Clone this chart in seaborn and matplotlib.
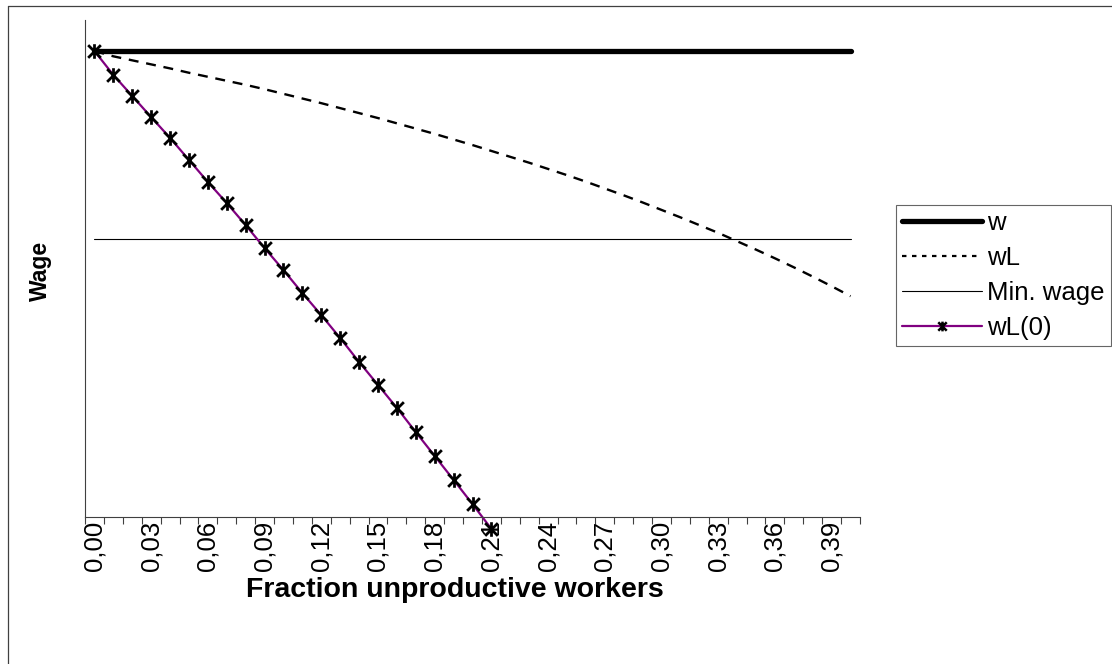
import numpy as np
import pandas as pd
import matplotlib
matplotlib.use("Agg")
import matplotlib.pyplot as plt
import matplotlib.lines as mlines
from matplotlib.path import Path
import seaborn as sns

# ==========================================
# data
# ==========================================
fraction = [0.00, 0.01, 0.02, 0.03, 0.04, 0.05, 0.06, 0.07, 0.08, 0.09,
            0.10, 0.11, 0.12, 0.13, 0.14, 0.15, 0.16, 0.17, 0.18, 0.19,
            0.20, 0.21, 0.22, 0.23, 0.24, 0.25, 0.26, 0.27, 0.28, 0.29,
            0.30, 0.31, 0.32, 0.33, 0.34, 0.35, 0.36, 0.37, 0.38, 0.39,
            0.40]

w = [15.0] * 41
min_wage = [8.94] * 41

wL = [15.00, 14.83, 14.70, 14.57, 14.44, 14.30, 14.17, 14.04, 13.91, 13.77,
      13.62, 13.47, 13.32, 13.16, 13.00, 12.84, 12.67, 12.50, 12.33, 12.15,
      11.97, 11.78, 11.59, 11.40, 11.20, 11.00, 10.79, 10.57, 10.35, 10.12,
      9.88, 9.64, 9.39, 9.14, 8.87, 8.60, 8.32, 8.03, 7.73, 7.42,
      7.10]

wL0 = [15.00, 14.23, 13.55, 12.87, 12.20, 11.49, 10.78, 10.10, 9.39, 8.65,
       7.94, 7.20, 6.49, 5.75, 4.98, 4.24, 3.50, 2.72, 1.95, 1.18,
       0.40, -0.40]

tick_labels = ["0,00", "0,03", "0,06", "0,09", "0,12", "0,15", "0,18",
               "0,21", "0,24", "0,27", "0,30", "0,33", "0,36", "0,39"]

# ==========================================
# plot
# ==========================================
sns.set_style("white")
plt.rcParams['font.family'] = ['Liberation Sans', 'DejaVu Sans']
plt.rcParams['text.color'] = 'black'
plt.rcParams['axes.labelcolor'] = 'black'
plt.rcParams['xtick.color'] = 'black'
plt.rcParams['ytick.color'] = 'black'

df = pd.DataFrame({'fraction': fraction, 'w': w, 'wL': wL, 'min_wage': min_wage})
df0 = pd.DataFrame({'fraction': fraction[:len(wL0)], 'wL0': wL0})

W, H = 1112, 664
fig = plt.figure(figsize=(W / 100, H / 100), dpi=100)
ax = fig.add_axes([85 / W, 1 - 516.5 / H, 775 / W, 496.5 / H])

# Excel style asterisk: an X with a vertical bar through it
star = Path([(-1, -1), (1, 1), (-1, 1), (1, -1), (0, -1.15), (0, 1.15)],
            [Path.MOVETO, Path.LINETO, Path.MOVETO, Path.LINETO,
             Path.MOVETO, Path.LINETO])

sns.lineplot(data=df, x='fraction', y='w', ax=ax, color='black', linewidth=3.8,
             clip_on=False)
sns.lineplot(data=df, x='fraction', y='wL', ax=ax, color='black', linewidth=1.7,
             dashes=(4.2, 3.3), clip_on=False)
sns.lineplot(data=df, x='fraction', y='min_wage', ax=ax, color='black',
             linewidth=0.8, clip_on=False)
sns.lineplot(data=df0, x='fraction', y='wL0', ax=ax, color='#800080', linewidth=1.6,
             marker=star, markersize=10.5, markeredgecolor='black',
             markeredgewidth=2.0, clip_on=False)

ax.set_xlim(-0.005, 0.405)
ax.set_ylim(0, 16)

# ticks at category boundaries, labels at every third category centre
ax.set_xticks([f - 0.005 for f in fraction] + [0.405])
ax.set_xticklabels([])
ax.set_xticks(fraction[::3], minor=True)
ax.set_xticklabels(tick_labels, minor=True, rotation=90, fontsize=18.5,
                   va='top', ha='center', color='black')
ax.tick_params(axis='x', which='major', direction='out', length=5, width=0.8,
               color='#404040', bottom=True)
ax.tick_params(axis='x', which='minor', length=0, pad=3)
ax.set_yticks([])

for side in ['top', 'right']:
    ax.spines[side].set_visible(False)
for side in ['left', 'bottom']:
    ax.spines[side].set_color('#404040')
    ax.spines[side].set_linewidth(0.8)

ax.set_xlabel("Fraction unproductive workers", fontsize=20.5, fontweight='bold',
              color='black')
ax.set_ylabel("Wage", fontsize=16.5, fontweight='bold', color='black')
ax.xaxis.set_label_coords((455 - 85) / 775, (516.5 - 590) / 496.5)
ax.xaxis.label.set_va('center')
ax.yaxis.set_label_coords((40 - 85) / 775, (516.5 - 271) / 496.5)
ax.yaxis.label.set_va('center')

# legend
handles = [
    mlines.Line2D([], [], color='black', linewidth=3.8),
    mlines.Line2D([], [], color='black', linewidth=1.6, dashes=(2, 2.5)),
    mlines.Line2D([], [], color='black', linewidth=0.8),
    mlines.Line2D([], [], color='#800080', linewidth=1.6, marker=star,
                  markersize=7, markeredgecolor='black', markeredgewidth=1.8),
]
leg = fig.legend(handles, ["w", "wL", "Min. wage", "wL(0)"],
                 loc='upper left', bbox_to_anchor=(896 / W, 1 - 205 / H),
                 fontsize=18.5, frameon=True, fancybox=False, edgecolor='#404040',
                 handlelength=3.1, handletextpad=0.2, labelspacing=0.42,
                 borderpad=0.25, borderaxespad=0, labelcolor='black')
leg.get_frame().set_linewidth(0.8)

# outer chart-area border
fig.add_artist(mlines.Line2D([8 / W, 8 / W], [0, 1 - 6 / H], color='#404040',
                             linewidth=0.9, transform=fig.transFigure))
fig.add_artist(mlines.Line2D([8 / W, 1], [1 - 6 / H, 1 - 6 / H], color='#404040',
                             linewidth=0.9, transform=fig.transFigure))

fig.savefig("out.png", dpi=100)
